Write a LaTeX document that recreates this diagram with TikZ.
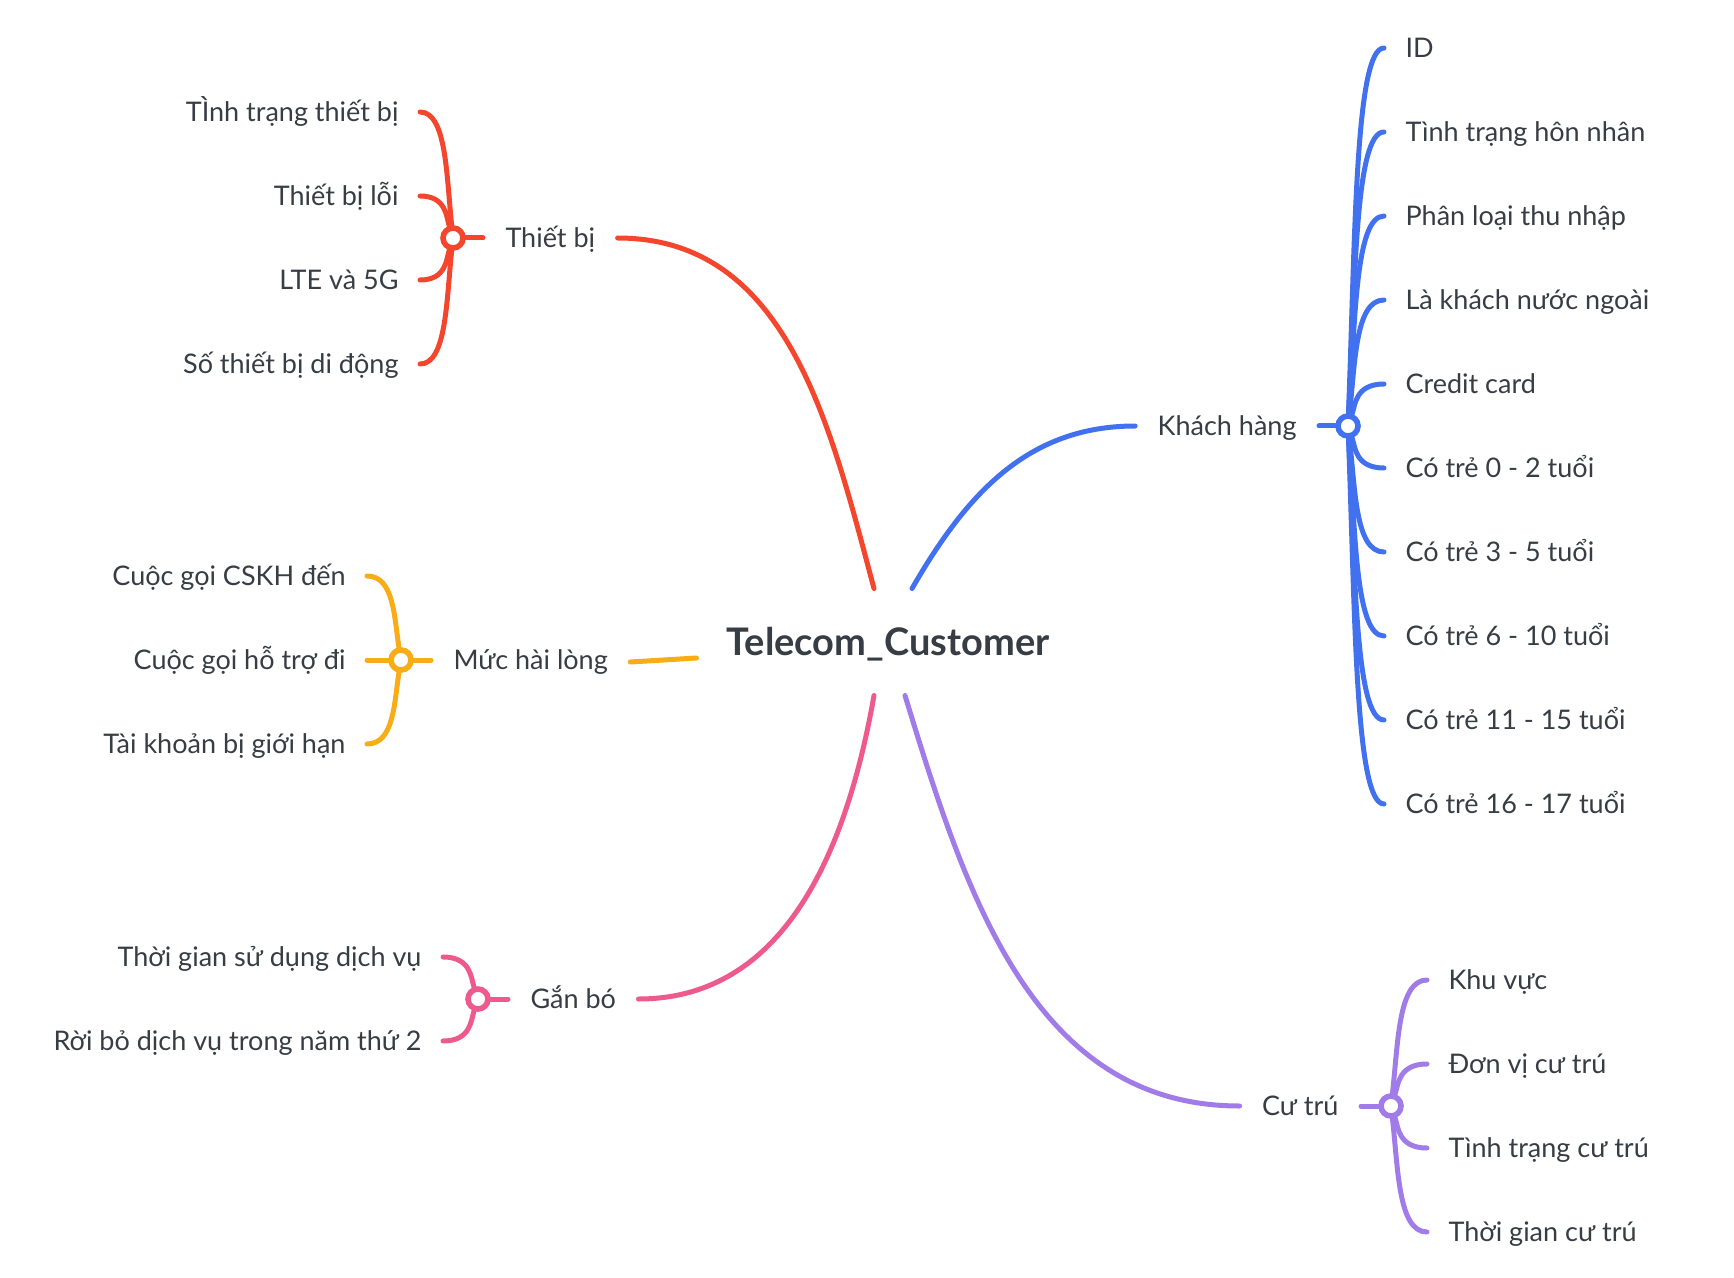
\documentclass[tikz,border=0pt]{standalone}
\usepackage{fontspec}
\setmainfont{Lato}
\usetikzlibrary{calc}

\definecolor{inktext}{HTML}{373D44}
\definecolor{redbr}{HTML}{F4462C}
\definecolor{bluebr}{HTML}{4271F0}
\definecolor{yellowbr}{HTML}{F8AC16}
\definecolor{pinkbr}{HTML}{EE5A8C}
\definecolor{purplebr}{HTML}{A17CE9}

\tikzset{%
          every leaf/.style={
            text=inktext,
            font=\fontsize{13.5}{16}\selectfont,
            text height=12pt,
            text depth=2.3pt,
            inner xsep=9.5pt,
            inner ysep=1pt
          },
          every topic/.style={
            every leaf,
            inner xsep=10pt
          },
          topic hub/.style={
            circle,
            fill=white,
            line width=2.8pt,
            minimum size=10pt,
            inner sep=0pt
          },
          leaf twig/.style={
            to path={let \p1=(\tikztostart), \p2=(\tikztotarget) in
              .. controls ({\x1+0.2*(\x2-\x1)},{0.5*(\y1+\y2)}) and ({\x1+0.2*(\x2-\x1)},{\y2}) .. (\tikztotarget)}
          },
        }

\begin{document}
\begin{tikzpicture}[x=0.5pt, y=0.5pt, line width=2.5pt, line cap=round]
        \useasboundingbox (0,0) rectangle (1734,-1278);

        \node [text=inktext, font=\bfseries\fontsize{19}{22}\selectfont, text height=16pt, text depth=2.4pt, minimum width=189pt, minimum height=51pt] (root) at (888,-642) {Telecom\_Customer};

        % Thiet bi
        \node [every topic, anchor=west] (thietbi) at (483,-238) {Thiết bị};
        \node [topic hub, draw=redbr] (hub-thietbi) at (453,-238) {};
        \node [every leaf, anchor=east] (thietbi-1) at (420,-112) {TÌnh trạng thiết bị};
        \node [every leaf, anchor=east] (thietbi-2) at (420,-196) {Thiết bị lỗi};
        \node [every leaf, anchor=east] (thietbi-3) at (420,-280) {LTE và 5G};
        \node [every leaf, anchor=east] (thietbi-4) at (420,-364) {Số thiết bị di động};

        % Khach hang
        \node [every topic, anchor=east] (khachhang) at (1319,-426) {Khách hàng};
        \node [topic hub, draw=bluebr] (hub-khachhang) at (1348,-426) {};
        \node [every leaf, anchor=west] (khachhang-1) at (1384,-48) {ID};
        \node [every leaf, anchor=west] (khachhang-2) at (1384,-132) {Tình trạng hôn nhân};
        \node [every leaf, anchor=west] (khachhang-3) at (1384,-216) {Phân loại thu nhập};
        \node [every leaf, anchor=west] (khachhang-4) at (1384,-300) {Là khách nước ngoài};
        \node [every leaf, anchor=west] (khachhang-5) at (1384,-384) {Credit card};
        \node [every leaf, anchor=west] (khachhang-6) at (1384,-468) {Có trẻ 0 - 2 tuổi};
        \node [every leaf, anchor=west] (khachhang-7) at (1384,-552) {Có trẻ 3 - 5 tuổi};
        \node [every leaf, anchor=west] (khachhang-8) at (1384,-636) {Có trẻ 6 - 10 tuổi};
        \node [every leaf, anchor=west] (khachhang-9) at (1384,-720) {Có trẻ 11 - 15 tuổi};
        \node [every leaf, anchor=west] (khachhang-10) at (1384,-804) {Có trẻ 16 - 17 tuổi};

        % Muc hai long
        \node [every topic, anchor=west] (muchailong) at (431,-660) {Mức hài lòng};
        \node [topic hub, draw=yellowbr] (hub-muchailong) at (401,-660) {};
        \node [every leaf, anchor=east] (muchailong-1) at (367,-576) {Cuộc gọi CSKH đến};
        \node [every leaf, anchor=east] (muchailong-2) at (367,-660) {Cuộc gọi hỗ trợ đi};
        \node [every leaf, anchor=east] (muchailong-3) at (367,-744) {Tài khoản bị giới hạn};

        % Gan bo
        \node [every topic, anchor=west] (ganbo) at (508,-999) {Gắn bó};
        \node [topic hub, draw=pinkbr] (hub-ganbo) at (478,-999) {};
        \node [every leaf, anchor=east] (ganbo-1) at (443,-957) {Thời gian sử dụng dịch vụ};
        \node [every leaf, anchor=east] (ganbo-2) at (443,-1041) {Rời bỏ dịch vụ trong năm thứ 2};

        % Cu tru
        \node [every topic, anchor=east] (cutru) at (1361,-1106) {Cư trú};
        \node [topic hub, draw=purplebr] (hub-cutru) at (1391,-1106) {};
        \node [every leaf, anchor=west] (cutru-1) at (1427,-980) {Khu vực};
        \node [every leaf, anchor=west] (cutru-2) at (1427,-1064) {Đơn vị cư trú};
        \node [every leaf, anchor=west] (cutru-3) at (1427,-1148) {Tình trạng cư trú};
        \node [every leaf, anchor=west] (cutru-4) at (1427,-1232) {Thời gian cư trú};

        % main branches
        \path [draw, redbr] ([xshift=-7pt]root.north) to[out=105, in=0] (thietbi.east);
        \path [draw, bluebr] ([xshift=12pt]root.north) to[out=60, in=180] (khachhang.west);
        \path [draw, yellowbr] ([yshift=-8pt]root.west) -- ([yshift=-1pt]muchailong.east);
        \path [draw, pinkbr] ([xshift=-7pt]root.south) to[out=-100, in=0] (ganbo.east);
        \path [draw, purplebr] ([xshift=8.5pt]root.south) to[out=-73, in=180] (cutru.west);

        % hubs to topics
        \path [draw, redbr] (hub-thietbi) -- (thietbi.west);
        \path [draw, bluebr] (hub-khachhang) -- (khachhang.east);
        \path [draw, yellowbr] (hub-muchailong) -- (muchailong.west);
        \path [draw, pinkbr] (hub-ganbo) -- (ganbo.west);
        \path [draw, purplebr] (hub-cutru) -- (cutru.east);

        % twigs
        \path [draw, redbr] (hub-thietbi) to[leaf twig] (thietbi-1.east);
        \path [draw, redbr] (hub-thietbi) to[leaf twig] (thietbi-2.east);
        \path [draw, redbr] (hub-thietbi) to[leaf twig] (thietbi-3.east);
        \path [draw, redbr] (hub-thietbi) to[leaf twig] (thietbi-4.east);

        \path [draw, bluebr] (hub-khachhang) to[leaf twig] (khachhang-1.west);
        \path [draw, bluebr] (hub-khachhang) to[leaf twig] (khachhang-2.west);
        \path [draw, bluebr] (hub-khachhang) to[leaf twig] (khachhang-3.west);
        \path [draw, bluebr] (hub-khachhang) to[leaf twig] (khachhang-4.west);
        \path [draw, bluebr] (hub-khachhang) to[leaf twig] (khachhang-5.west);
        \path [draw, bluebr] (hub-khachhang) to[leaf twig] (khachhang-6.west);
        \path [draw, bluebr] (hub-khachhang) to[leaf twig] (khachhang-7.west);
        \path [draw, bluebr] (hub-khachhang) to[leaf twig] (khachhang-8.west);
        \path [draw, bluebr] (hub-khachhang) to[leaf twig] (khachhang-9.west);
        \path [draw, bluebr] (hub-khachhang) to[leaf twig] (khachhang-10.west);

        \path [draw, yellowbr] (hub-muchailong) to[leaf twig] (muchailong-1.east);
        \path [draw, yellowbr] (hub-muchailong) to[leaf twig] (muchailong-2.east);
        \path [draw, yellowbr] (hub-muchailong) to[leaf twig] (muchailong-3.east);

        \path [draw, pinkbr] (hub-ganbo) to[leaf twig] (ganbo-1.east);
        \path [draw, pinkbr] (hub-ganbo) to[leaf twig] (ganbo-2.east);

        \path [draw, purplebr] (hub-cutru) to[leaf twig] (cutru-1.west);
        \path [draw, purplebr] (hub-cutru) to[leaf twig] (cutru-2.west);
        \path [draw, purplebr] (hub-cutru) to[leaf twig] (cutru-3.west);
        \path [draw, purplebr] (hub-cutru) to[leaf twig] (cutru-4.west);

        \end{tikzpicture}
\end{document}
